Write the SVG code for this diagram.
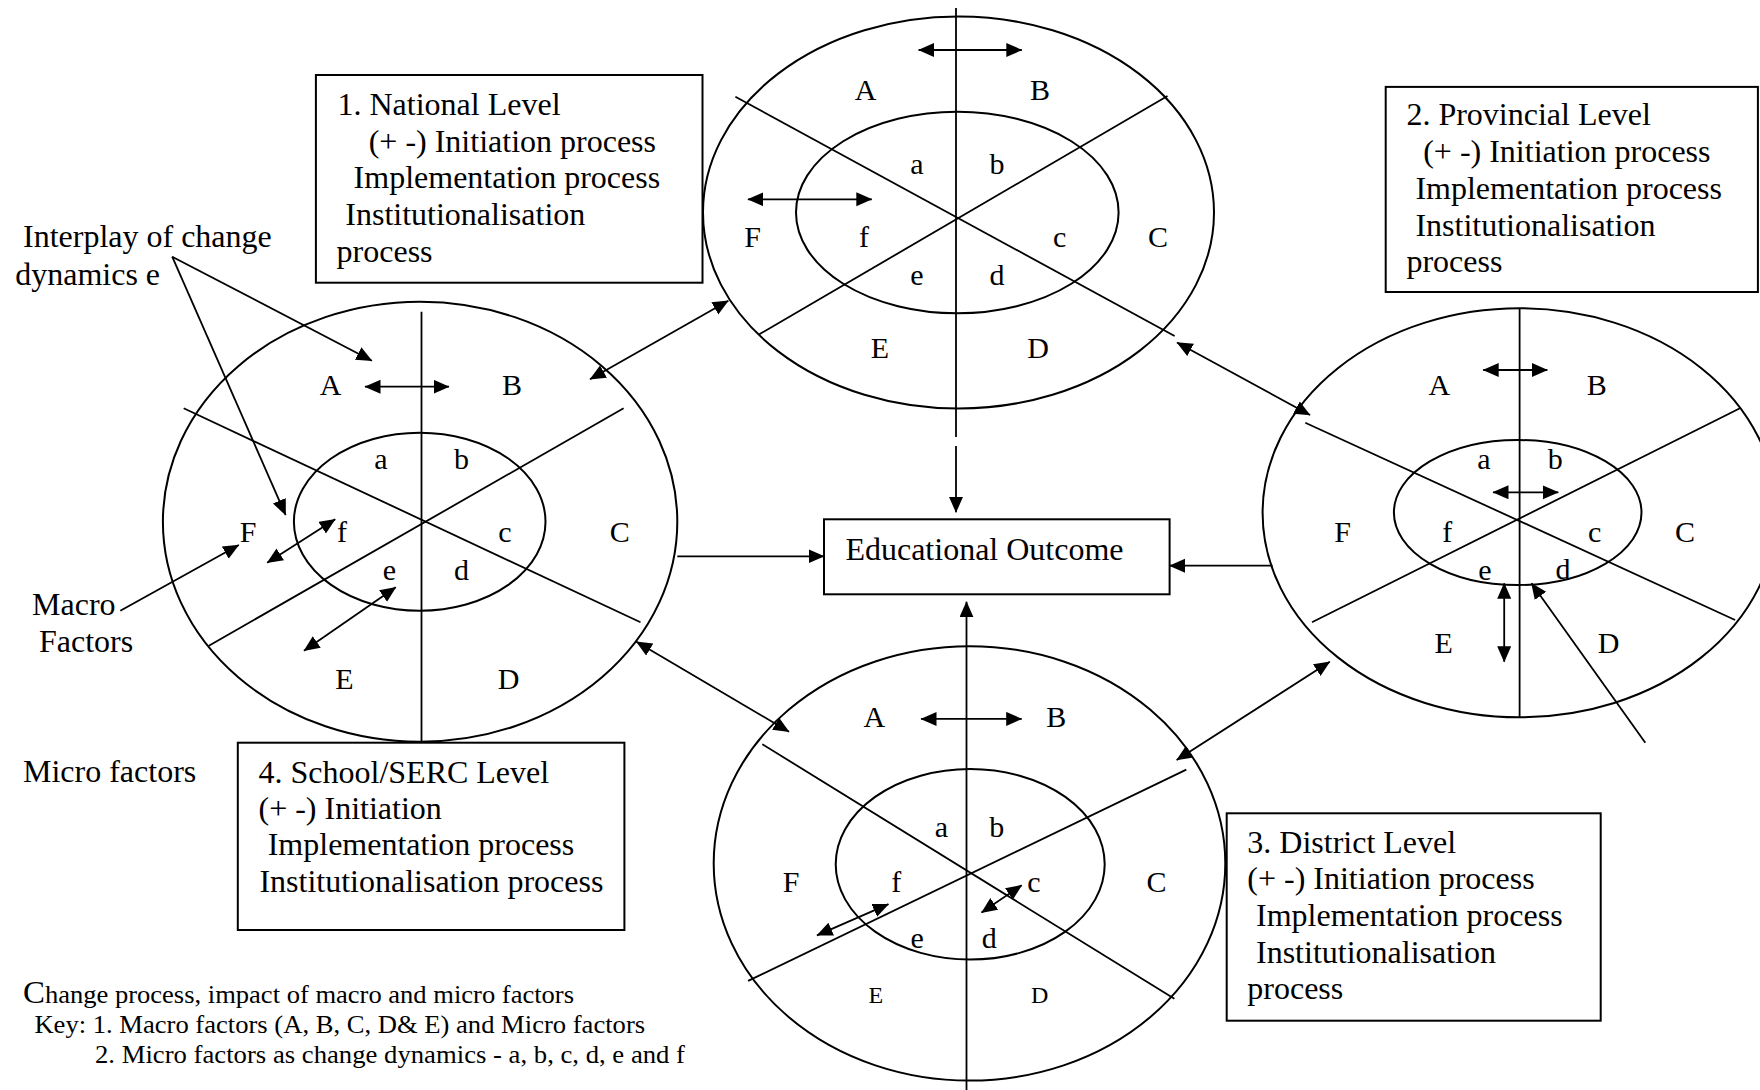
<svg xmlns="http://www.w3.org/2000/svg" width="1760" height="1090" viewBox="0 0 1760 1090">
  <style>
    .el { fill: none; stroke: #000; stroke-width: 2; }
    .ln { fill: none; stroke: #000; stroke-width: 1.8; }
    .bx { fill: none; stroke: #000; stroke-width: 2; }
    .ar { fill: none; stroke: #000; stroke-width: 1.8; marker-end: url(#ah); }
    .ar2 { fill: none; stroke: #000; stroke-width: 1.8; marker-start: url(#ah); marker-end: url(#ah); }
    text { font-family: "Liberation Serif", "Times New Roman", serif; fill: #000; }
    .t { font-size: 32px; }
    .lb { font-size: 30px; text-anchor: middle; }
    .sm { font-size: 24px; text-anchor: middle; }
    .cap { font-size: 25px; }
  </style>
  <defs>
    <marker id="ah" markerUnits="userSpaceOnUse" markerWidth="17" markerHeight="15" refX="15.5" refY="7" orient="auto-start-reverse">
      <path d="M0,0 L16,7 L0,14 Z" fill="#000"/>
    </marker>
  </defs>
  <rect width="1760" height="1090" fill="#fff"/>

  <!-- National level wheel (top) -->
  <g id="national-wheel">
    <ellipse class="el" cx="958.5" cy="212.5" rx="255.5" ry="196"/>
    <ellipse class="el" cx="957.3" cy="212.5" rx="161.3" ry="100.8"/>
    <line class="ln" x1="956" y1="8" x2="956" y2="437"/>
    <line class="ln" x1="735.4" y1="96.7" x2="1174.6" y2="336"/>
    <line class="ln" x1="1167.5" y1="96" x2="759.3" y2="334.3"/>
    <text class="lb" x="865.7" y="100">A</text>
    <text class="lb" x="1040" y="100">B</text>
    <text class="lb" x="916.8" y="174">a</text>
    <text class="lb" x="997" y="174">b</text>
    <text class="lb" x="752.5" y="247">F</text>
    <text class="lb" x="864" y="247">f</text>
    <text class="lb" x="1059.6" y="247">c</text>
    <text class="lb" x="1157.9" y="247">C</text>
    <text class="lb" x="916.8" y="285">e</text>
    <text class="lb" x="997" y="285">d</text>
    <text class="lb" x="880" y="358">E</text>
    <text class="lb" x="1038" y="358">D</text>
  </g>

  <!-- Provincial level wheel (right) -->
  <g id="provincial-wheel">
    <ellipse class="el" cx="1519.6" cy="512.8" rx="257" ry="204.5"/>
    <ellipse class="el" cx="1517.7" cy="512.5" rx="123.8" ry="72.5"/>
    <line class="ln" x1="1519.6" y1="308.3" x2="1519.6" y2="717.3"/>
    <line class="ln" x1="1305.3" y1="422.7" x2="1735.1" y2="620"/>
    <line class="ln" x1="1741" y1="407.7" x2="1312" y2="622.3"/>
    <text class="lb" x="1439.3" y="395">A</text>
    <text class="lb" x="1596.7" y="395">B</text>
    <text class="lb" x="1484" y="469">a</text>
    <text class="lb" x="1555.2" y="469">b</text>
    <text class="lb" x="1342.5" y="541.5">F</text>
    <text class="lb" x="1447.2" y="541.5">f</text>
    <text class="lb" x="1594.7" y="541.5">c</text>
    <text class="lb" x="1684.9" y="541.5">C</text>
    <text class="lb" x="1484.8" y="579.5">e</text>
    <text class="lb" x="1563" y="578.5">d</text>
    <text class="lb" x="1443.7" y="652.5">E</text>
    <text class="lb" x="1608.6" y="652.5">D</text>
  </g>

  <!-- District level wheel (bottom) -->
  <g id="district-wheel">
    <ellipse class="el" cx="969.5" cy="863.4" rx="255.8" ry="217.2"/>
    <ellipse class="el" cx="970.2" cy="864.3" rx="134.5" ry="95.3"/>
    <line class="ln" x1="762.3" y1="744.2" x2="1174.4" y2="998.8"/>
    <line class="ln" x1="1186.3" y1="769.6" x2="748.1" y2="980.9"/>
    <text class="lb" x="874.4" y="727.3">A</text>
    <text class="lb" x="1056.2" y="727.3">B</text>
    <text class="lb" x="941.4" y="837">a</text>
    <text class="lb" x="996.8" y="837">b</text>
    <text class="lb" x="791" y="892">F</text>
    <text class="lb" x="896.2" y="892">f</text>
    <text class="lb" x="1034" y="892">c</text>
    <text class="lb" x="1156.4" y="892">C</text>
    <text class="lb" x="917.2" y="948">e</text>
    <text class="lb" x="989.2" y="948">d</text>
    <text class="sm" x="875.9" y="1003">E</text>
    <text class="sm" x="1039.7" y="1003">D</text>
  </g>

  <!-- School/SERC level wheel (left) -->
  <g id="school-wheel">
    <ellipse class="el" cx="420.1" cy="521.7" rx="257.2" ry="220"/>
    <ellipse class="el" cx="419.7" cy="521.7" rx="125.8" ry="89"/>
    <line class="ln" x1="421.5" y1="311.7" x2="421.5" y2="741.7"/>
    <line class="ln" x1="183.7" y1="408.3" x2="640.5" y2="622.3"/>
    <line class="ln" x1="623.6" y1="408.3" x2="208.9" y2="645.7"/>
    <text class="lb" x="330.6" y="395">A</text>
    <text class="lb" x="512" y="395">B</text>
    <text class="lb" x="381" y="469">a</text>
    <text class="lb" x="461.4" y="469">b</text>
    <text class="lb" x="248" y="542">F</text>
    <text class="lb" x="342" y="542">f</text>
    <text class="lb" x="505" y="542">c</text>
    <text class="lb" x="619.8" y="542">C</text>
    <text class="lb" x="389.4" y="580">e</text>
    <text class="lb" x="461.4" y="580">d</text>
    <text class="lb" x="344.4" y="689">E</text>
    <text class="lb" x="508.7" y="689">D</text>
  </g>

  <!-- Level boxes -->
  <g id="national-box">
    <rect class="bx" x="315.9" y="75" width="386.6" height="207.7"/>
    <text class="t" x="337.5" y="115">1. National Level</text>
    <text class="t" x="368.7" y="151.7">(+ -) Initiation process</text>
    <text class="t" x="353.6" y="188.3">Implementation process</text>
    <text class="t" x="345.3" y="225">Institutionalisation</text>
    <text class="t" x="336.6" y="261.7">process</text>
  </g>

  <g id="provincial-box">
    <rect class="bx" x="1385.7" y="86.9" width="372.2" height="205.1"/>
    <text class="t" x="1406.4" y="125">2. Provincial Level</text>
    <text class="t" x="1423.2" y="162">(+ -) Initiation process</text>
    <text class="t" x="1415.4" y="198.8">Implementation process</text>
    <text class="t" x="1415.4" y="235.6">Institutionalisation</text>
    <text class="t" x="1406.4" y="272.3">process</text>
  </g>

  <g id="district-box">
    <rect class="bx" x="1226.7" y="813.3" width="374" height="207.4"/>
    <text class="t" x="1247.3" y="852.7">3. District Level</text>
    <text class="t" x="1247.3" y="889.4">(+ -) Initiation process</text>
    <text class="t" x="1256" y="926.1">Implementation process</text>
    <text class="t" x="1256" y="962.8">Institutionalisation</text>
    <text class="t" x="1247.3" y="999">process</text>
  </g>

  <g id="school-box">
    <rect class="bx" x="237.8" y="742.7" width="386.6" height="187.3"/>
    <text class="t" x="258.5" y="782.7">4. School/SERC Level</text>
    <text class="t" x="258.5" y="818.5">(+ -) Initiation</text>
    <text class="t" x="267.7" y="855">Implementation process</text>
    <text class="t" x="259.4" y="891.7">Institutionalisation process</text>
  </g>

  <g id="outcome-box">
    <rect class="bx" x="824" y="519.3" width="345.6" height="75"/>
    <text class="t" x="845.4" y="560">Educational Outcome</text>
  </g>

  <!-- Free labels -->
  <g id="side-labels">
    <text class="t" x="23" y="247.3">Interplay of change</text>
    <text class="t" x="15.2" y="285">dynamics e</text>
    <text class="t" x="32.1" y="615">Macro</text>
    <text class="t" x="39" y="651.7">Factors</text>
    <text class="t" x="23" y="781.7">Micro factors</text>
  </g>

  <g id="caption">
    <text class="cap" x="23" y="1002.7" textLength="551" lengthAdjust="spacingAndGlyphs"><tspan font-size="31">C</tspan>hange process, impact of macro and micro factors</text>
    <text class="cap" x="34.4" y="1033.3" textLength="610.7" lengthAdjust="spacingAndGlyphs">Key: 1. Macro factors (A, B, C, D&amp; E) and Micro factors</text>
    <text class="cap" x="95" y="1063.3" textLength="590" lengthAdjust="spacingAndGlyphs">2. Micro factors as change dynamics - a, b, c, d, e and f</text>
  </g>

  <!-- Connectors -->
  <g id="connectors">
    <!-- wheel to wheel -->
    <line class="ar2" x1="590" y1="379.3" x2="728.3" y2="300.7"/>
    <line class="ar2" x1="1177" y1="342.5" x2="1310" y2="415"/>
    <line class="ar2" x1="636.4" y1="641.7" x2="789" y2="731.7"/>
    <line class="ar2" x1="1176.7" y1="760" x2="1329.8" y2="661.7"/>
    <!-- wheels to outcome -->
    <line class="ar" x1="677.3" y1="556.3" x2="824" y2="556.3"/>
    <line class="ar" x1="1272.5" y1="565.7" x2="1169.6" y2="565.7"/>
    <line class="ar" x1="956" y1="446" x2="956" y2="512.3"/>
    <line class="ar" x1="966.5" y1="1090" x2="966.5" y2="601.7"/>
    <!-- interplay arrows inside the wheels -->
    <line class="ar2" x1="918.6" y1="50" x2="1021.8" y2="50"/>
    <line class="ar2" x1="747.9" y1="199.3" x2="871.8" y2="199.3"/>
    <line class="ar2" x1="1483.2" y1="370" x2="1547.3" y2="370"/>
    <line class="ar2" x1="1493" y1="492.3" x2="1558.3" y2="492.3"/>
    <line class="ar2" x1="1504.2" y1="583.3" x2="1504.2" y2="661.7"/>
    <line class="ar" x1="1645.3" y1="742.7" x2="1531.5" y2="583.3"/>
    <line class="ar2" x1="921" y1="718.9" x2="1021.7" y2="718.9"/>
    <line class="ar2" x1="817" y1="935.3" x2="888.5" y2="904.2"/>
    <line class="ar2" x1="1021.7" y1="885.2" x2="981.5" y2="912.6"/>
    <line class="ar2" x1="365" y1="386.7" x2="449" y2="386.7"/>
    <line class="ar2" x1="267.2" y1="562.7" x2="335.2" y2="519.3"/>
    <line class="ar2" x1="304" y1="650.7" x2="395.8" y2="587.3"/>
    <!-- label pointers -->
    <line class="ar" x1="172.2" y1="256.7" x2="371.9" y2="360.7"/>
    <line class="ar" x1="172.2" y1="256.7" x2="285.6" y2="515"/>
    <line class="ar" x1="120.3" y1="610.7" x2="238.8" y2="545"/>
  </g>
</svg>
